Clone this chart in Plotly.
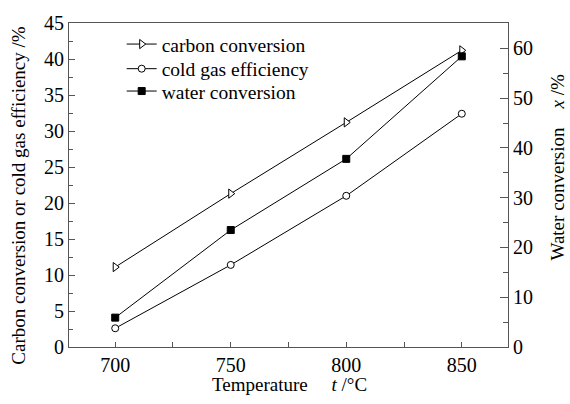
import plotly.graph_objects as go

temps = [700, 750, 800, 850]
carbon_conv = [11.1, 21.3, 31.2, 41.2]
cold_gas_eff = [2.6, 11.4, 21.0, 32.4]
water_conv = [5.9, 23.5, 37.8, 58.4]

FONT = "Liberation Serif"
AX = "#555555"
NB = "\u00a0"

fig = go.Figure()
fig.add_trace(go.Scatter(x=temps, y=carbon_conv, name="carbon conversion", mode="lines+markers",
                         legend="legend",
                         line=dict(color="black", width=1),
                         marker=dict(symbol="triangle-right", size=8, color="white",
                                     line=dict(color="black", width=1))))
fig.add_trace(go.Scatter(x=temps, y=cold_gas_eff, name="cold gas efficiency", mode="lines+markers",
                         legend="legend2",
                         line=dict(color="black", width=1),
                         marker=dict(symbol="circle", size=7, color="white",
                                     line=dict(color="black", width=1))))
fig.add_trace(go.Scatter(x=temps, y=water_conv, name="water conversion", mode="lines+markers",
                         yaxis="y2", legend="legend3",
                         line=dict(color="black", width=1),
                         marker=dict(symbol="square", size=7, color="black",
                                     line=dict(color="black", width=1))))

leg = dict(x=0.12, xanchor="left", yanchor="middle",
           bgcolor="rgba(0,0,0,0)", font=dict(size=19.5, family=FONT))

fig.update_layout(
    width=570, height=404,
    margin=dict(l=69, r=62, t=15, b=57),
    paper_bgcolor="white", plot_bgcolor="white",
    font=dict(family=FONT, size=20, color="black"),
    showlegend=True,
    legend=dict(leg, y=0.934),
    legend2=dict(leg, y=0.858),
    legend3=dict(leg, y=0.789),
    xaxis=dict(range=[680, 870], tickvals=[700, 750, 800, 850],
               ticks="inside", ticklen=5, tickcolor=AX,
               showline=True, linecolor=AX, linewidth=1, mirror=True,
               showgrid=False, zeroline=False,
               minor=dict(tickvals=[725, 775, 825], ticks="inside", ticklen=5, tickcolor=AX)),
    yaxis=dict(range=[0, 45], dtick=5, tick0=0,
               ticks="inside", ticklen=6, tickcolor=AX,
               showline=True, linecolor=AX, linewidth=1, mirror=True,
               showgrid=False, zeroline=False,
               minor=dict(dtick=2.5, ticks="inside", ticklen=4, tickcolor=AX)),
    yaxis2=dict(range=[0, 65.1], dtick=10, tick0=0, overlaying="y", side="right",
                ticks="inside", ticklen=8, tickcolor=AX,
                showline=True, linecolor=AX, linewidth=1,
                showgrid=False, zeroline=False,
                minor=dict(dtick=5, ticks="inside", ticklen=5, tickcolor=AX)),
    annotations=[
        dict(text="Carbon conversion or cold gas efficiency /%", xref="paper", yref="paper",
             x=-0.1139, y=0.47, textangle=-90, showarrow=False,
             xanchor="center", yanchor="middle", font=dict(size=19, family=FONT)),
        dict(text="Water conversion" + NB * 4 + "<i>x</i> /%", xref="paper", yref="paper",
             x=1.1139, y=0.554, textangle=-90, showarrow=False,
             xanchor="center", yanchor="middle", font=dict(size=19, family=FONT)),
        dict(text="Temperature" + NB * 5 + "<i>t</i> /°C", xref="paper", yref="paper",
             x=0.503, y=-0.1145, showarrow=False,
             xanchor="center", yanchor="middle", font=dict(size=19, family=FONT)),
    ],
)

fig.write_html("out.html")
